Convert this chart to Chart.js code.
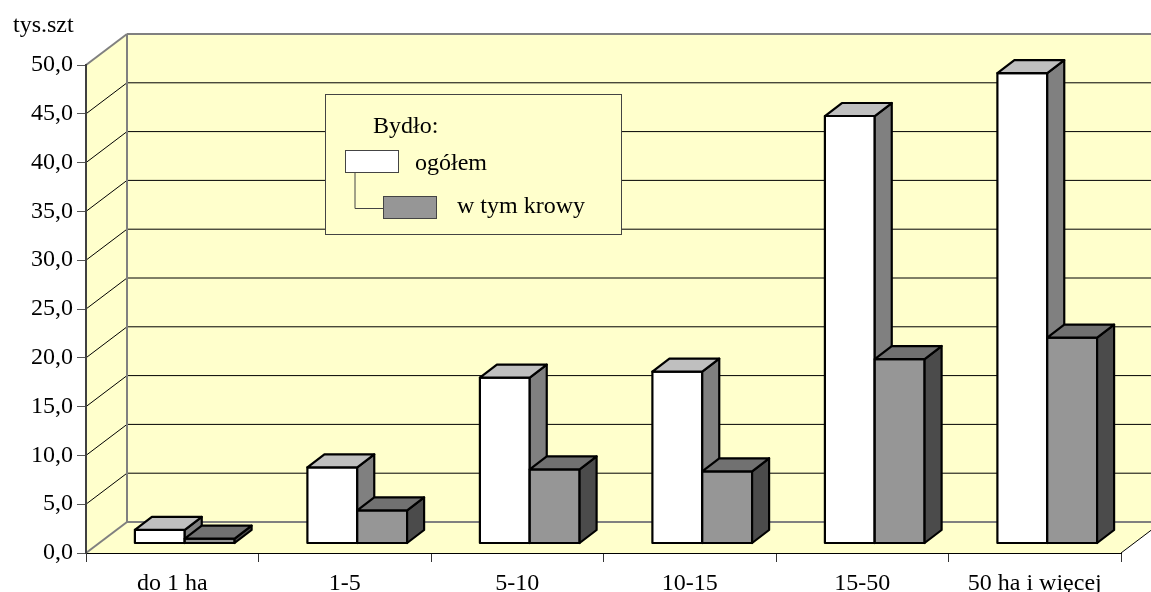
<!DOCTYPE html>
<html>
<head>
<meta charset="utf-8">
<style>
  html, body { margin: 0; padding: 0; background: #fff; }
  canvas { display: block; }
</style>
<script src="https://cdn.jsdelivr.net/npm/chart.js@4/dist/chart.umd.min.js"></script>
</head>
<body>
<canvas id="chart" width="1151" height="592"></canvas>
<script>
const categories = ["do 1 ha", "1-5", "5-10", "10-15", "15-50", "50 ha i więcej"];
const ogolem = [1.4, 7.8, 17.0, 17.6, 43.8, 48.2];
const krowy = [0.5, 3.4, 7.6, 7.4, 18.9, 21.1];
const yTickLabels = ["0,0", "5,0", "10,0", "15,0", "20,0", "25,0", "30,0", "35,0", "40,0", "45,0", "50,0"];

const unitLabel = "tys.szt";
const legendTitle = "Bydło:";
const seriesNames = ["ogółem", "w tym krowy"];

const FONT = '"Liberation Serif", serif';
const FONT_SIZE = 24;
const WALL = "#ffffcc";
// wall depth and bar depth, in px
const WALL_DX = 41, WALL_DY = 31;
const BAR_DX = 17, BAR_DY = 13;
const BAR_SHIFT_X = 12.5, BAR_SHIFT_Y = 9.5;
const EDGE = 2.2;

function poly(ctx, pts, fill, stroke, width) {
  ctx.beginPath();
  pts.forEach((p, i) => (i ? ctx.lineTo(p[0], p[1]) : ctx.moveTo(p[0], p[1])));
  ctx.closePath();
  if (fill) {
    ctx.fillStyle = fill;
    ctx.fill();
  }
  if (stroke) {
    ctx.strokeStyle = stroke;
    ctx.lineWidth = width;
    ctx.lineJoin = "round";
    ctx.stroke();
  }
}

function line(ctx, x1, y1, x2, y2, color, width) {
  ctx.beginPath();
  ctx.moveTo(x1, y1);
  ctx.lineTo(x2, y2);
  ctx.strokeStyle = color;
  ctx.lineWidth = width;
  ctx.stroke();
}

function drawLegend(ctx) {
  ctx.fillStyle = WALL;
  ctx.fillRect(325.5, 94.5, 296, 140);
  ctx.strokeStyle = "#444";
  ctx.lineWidth = 1;
  ctx.strokeRect(325.5, 94.5, 296, 140);

  line(ctx, 355, 172, 355, 208.5, "#444", 1);
  line(ctx, 355, 208.5, 383, 208.5, "#444", 1);

  ctx.strokeStyle = "#444";
  ctx.lineWidth = 1;
  ctx.fillStyle = "#fff";
  ctx.fillRect(345.5, 150.5, 53, 22);
  ctx.strokeRect(345.5, 150.5, 53, 22);
  ctx.fillStyle = "#969696";
  ctx.fillRect(383.5, 196.5, 53, 22);
  ctx.strokeRect(383.5, 196.5, 53, 22);

  ctx.fillStyle = "#000";
  ctx.font = FONT_SIZE + "px " + FONT;
  ctx.textAlign = "left";
  ctx.textBaseline = "alphabetic";
  ctx.fillText(legendTitle, 373, 133);
  ctx.fillText(seriesNames[0], 415, 170);
  ctx.fillText(seriesNames[1], 457, 213);
}

const walls = {
  id: "walls",
  beforeDraw(chart) {
    const { ctx, chartArea: a, width } = chart;
    const y = chart.scales.y;
    const t = a.top - WALL_DY, b = a.bottom - WALL_DY, lx = a.left + WALL_DX;
    const rx = a.right + WALL_DX;

    ctx.save();
    poly(ctx, [[lx, t], [rx, t], [rx, b], [lx, b]], WALL);
    poly(ctx, [[a.left, a.top], [lx, t], [lx, b], [a.left, a.bottom]], WALL);
    poly(ctx, [[a.left, a.bottom], [lx, b], [rx, b], [a.right, a.bottom]], WALL);

    // gridlines run along the side wall, then the back wall
    for (let v = 5; v < 50; v += 5) {
      const py = y.getPixelForValue(v);
      line(ctx, a.left, py, lx, py - WALL_DY, "#000", 1);
      line(ctx, lx, py - WALL_DY, width, py - WALL_DY, "#000", 1);
    }

    line(ctx, lx, t, width, t, "#808080", 2);
    line(ctx, lx, t, lx, b, "#808080", 2);
    line(ctx, lx, b, width, b, "#808080", 2);
    line(ctx, a.left, a.top, lx, t, "#808080", 2);
    line(ctx, a.left, a.bottom, lx, b, "#808080", 2);
    line(ctx, a.right, a.bottom, rx, b, "#000", 1);

    drawLegend(ctx);

    ctx.fillStyle = "#000";
    ctx.font = FONT_SIZE + "px " + FONT;
    ctx.textAlign = "left";
    ctx.textBaseline = "alphabetic";
    ctx.fillText(unitLabel, 13, 32);
    ctx.restore();
  },
  // the library draws the last dataset first, here the white bars must go first,
  // and each bar gets its side and top face right after its own dataset
  beforeDatasetsDraw(chart) {
    const ctx = chart.ctx;
    chart.data.datasets.forEach((ds, i) => {
      const meta = chart.getDatasetMeta(i);
      ctx.save();
      ctx.translate(BAR_SHIFT_X, -BAR_SHIFT_Y);
      meta.controller.draw();
      meta.data.forEach((el) => {
        const l = el.x - el.width / 2, r = el.x + el.width / 2;
        const top = el.y, bot = el.base;
        poly(ctx, [[l, top], [r, top], [r, bot], [l, bot]], null, "#000", EDGE);
        poly(ctx, [[r, top], [r + BAR_DX, top - BAR_DY], [r + BAR_DX, bot - BAR_DY], [r, bot]], ds.sideColor, "#000", EDGE);
        poly(ctx, [[l, top], [l + BAR_DX, top - BAR_DY], [r + BAR_DX, top - BAR_DY], [r, top]], ds.topColor, "#000", EDGE);
      });
      ctx.restore();
    });
    return false;
  },
};

new Chart(document.getElementById("chart"), {
  type: "bar",
  data: {
    labels: categories,
    datasets: [
      { label: seriesNames[0], data: ogolem, backgroundColor: "#fff", topColor: "#bfbfbf", sideColor: "#808080", borderWidth: 0 },
      { label: seriesNames[1], data: krowy, backgroundColor: "#969696", topColor: "#717171", sideColor: "#4b4b4b", borderWidth: 0 },
    ],
  },
  options: {
    responsive: false,
    animation: false,
    layout: { padding: { top: 65, right: 30, left: 0, bottom: 0 } },
    datasets: { bar: { categoryPercentage: 0.578, barPercentage: 1 } },
    plugins: { legend: { display: false }, tooltip: { enabled: false } },
    scales: {
      x: {
        afterFit: (s) => { s.height = 39; },
        border: { color: "#000", width: 1 },
        grid: { drawOnChartArea: false, tickLength: 9, tickColor: "#333" },
        ticks: { color: "#000", font: { family: FONT, size: FONT_SIZE }, padding: 7, maxRotation: 0, autoSkip: false },
      },
      y: {
        min: 0,
        max: 50,
        afterFit: (s) => { s.width = 86; },
        border: { color: "#404040", width: 2 },
        grid: { drawOnChartArea: false, tickLength: 9, tickColor: "#555" },
        ticks: {
          stepSize: 5,
          color: "#000",
          font: { family: FONT, size: FONT_SIZE },
          padding: 4,
          callback: (v, i) => yTickLabels[i],
        },
      },
    },
  },
  plugins: [walls],
});
</script>
</body>
</html>
